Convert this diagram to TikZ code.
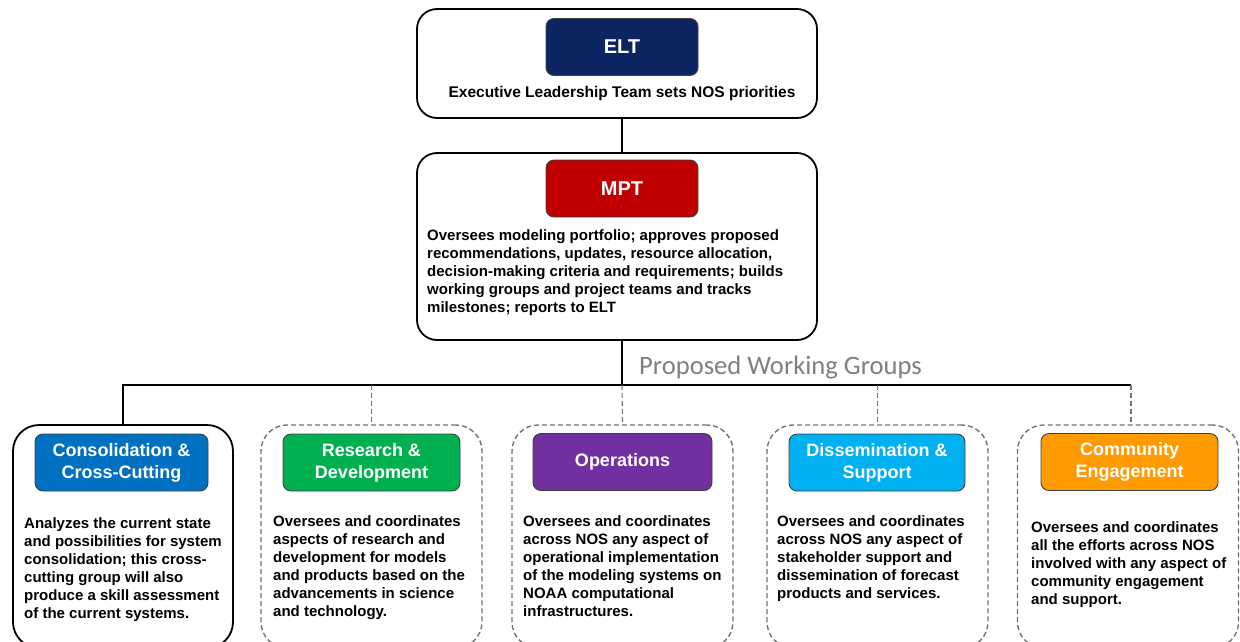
\documentclass[tikz,border=0pt]{standalone}
\usepackage{fontspec}
\setmainfont{Liberation Sans}
\newfontfamily\carlitofont{Carlito}
\definecolor{eltnavy}{HTML}{0C2461}
\definecolor{mptred}{HTML}{C00000}
\definecolor{consblue}{HTML}{0070C0}
\definecolor{rdgreen}{HTML}{00B050}
\definecolor{opspurple}{HTML}{7030A0}
\definecolor{dissblue}{HTML}{00B0F0}
\definecolor{commorange}{HTML}{FF9A00}
\definecolor{wggray}{HTML}{7F7F7F}
\begin{document}
\begin{tikzpicture}[x=1pt,y=-1pt,
  outerbox/.style={draw=black, line width=1.8pt, rounded corners=20pt, inner sep=0pt},
  wgsolid/.style={draw=black, line width=1.8pt, rounded corners=26pt, inner sep=0pt, minimum width=220pt, minimum height=223pt},
  wgbox/.style={draw=black!55, line width=1.4pt, dash pattern=on 5pt off 3pt, rounded corners=26pt, inner sep=0pt, minimum width=221pt, minimum height=223pt},
  hdr/.style={draw=black!75, line width=0.9pt, rounded corners=8pt, text=white, font=\bfseries\fontsize{18}{22}\selectfont, align=center, minimum height=57pt, inner sep=0pt},
  body/.style={anchor=north west, inner sep=0pt, align=left, font=\bfseries\fontsize{15}{18}\selectfont},
  link/.style={draw=black, line width=1.6pt},
  dlink/.style={draw=black!55, line width=1.1pt, dash pattern=on 5pt off 3pt}
]
\useasboundingbox (0,0) rectangle (1240,641);
\clip (0,0) rectangle (1240,641);

% ELT
\node[outerbox, minimum width=400pt, minimum height=109pt] (elt) at (617,63.5) {};
\node[hdr, fill=eltnavy, minimum width=152pt, font=\bfseries\fontsize{20}{24}\selectfont] (eltH) at (622,47) {ELT};
\node[inner sep=0pt, font=\bfseries\fontsize{15.5}{18}\selectfont] (eltT) at (622,93.5) {Executive Leadership Team sets NOS priorities};

% MPT
\node[outerbox, minimum width=400pt, minimum height=187pt] (mpt) at (617,246.5) {};
\node[hdr, fill=mptred, minimum width=152pt, font=\bfseries\fontsize{20}{24}\selectfont] (mptH) at (622,188.5) {MPT};
\node[body] (mptT) at (427,229.5) {Oversees modeling portfolio; approves proposed\\recommendations, updates, resource allocation,\\decision-making criteria and requirements; builds\\working groups and project teams and tracks\\milestones; reports to ELT};

% spine and bus
\coordinate (spine) at (622,385);
\coordinate (busR) at (1131,385);
\draw[link] (elt.south -| spine) -- (mpt.north -| spine);
\draw[link] (mpt.south -| spine) -- (spine);
\node[anchor=west, inner sep=0pt, text=wggray, font=\carlitofont\fontsize{26.6}{30}\selectfont] (pwg) at (639,367.5) {Proposed Working Groups};

% working group boxes
\node[wgsolid] (w1) at (123,536.5) {};
\node[wgbox] (w2) at (371.5,536.5) {};
\node[wgbox] (w3) at (622.5,536.5) {};
\node[wgbox] (w4) at (877.5,536.5) {};
\node[wgbox] (w5) at (1128,536.5) {};

\draw[link] (w1.north) -- (w1.north |- spine) -- (busR);
\draw[dlink] (w2.north |- spine) -- (w2.north);
\draw[dlink] (spine) -- (w3.north);
\draw[dlink] (w4.north |- spine) -- (w4.north);
\draw[dlink] (busR) -- (busR |- w5.north);

\node[hdr, fill=consblue, minimum width=173pt] (h1) at (121.5,462.5) {Consolidation \&\\Cross-Cutting};
\node[hdr, fill=rdgreen, minimum width=177pt] (h2) at (371.5,462.5) {Research \&\\Development};
\node[hdr, fill=opspurple, minimum width=179pt] (h3) at (622.5,462) {Operations};
\node[hdr, fill=dissblue, minimum width=176pt] (h4) at (877,462.5) {Dissemination \&\\Support};
\node[hdr, fill=commorange, minimum width=177pt] (h5) at (1129.5,462) {Community\\Engagement};

\node[body] (t1) at (24,517) {Analyzes the current state\\and possibilities for system\\consolidation; this cross-\\cutting group will also\\produce a skill assessment\\of the current systems.};
\node[body] (t2) at (273,515.5) {Oversees and coordinates\\aspects of research and\\development for models\\and products based on the\\advancements in science\\and technology.};
\node[body] (t3) at (523,515.5) {Oversees and coordinates\\across NOS any aspect of\\operational implementation\\of the modeling systems on\\NOAA computational\\infrastructures.};
\node[body] (t4) at (777,515.5) {Oversees and coordinates\\across NOS any aspect of\\stakeholder support and\\dissemination of forecast\\products and services.};
\node[body] (t5) at (1031,521.5) {Oversees and coordinates\\all the efforts across NOS\\involved with any aspect of\\community engagement\\and support.};
\end{tikzpicture}
\end{document}
